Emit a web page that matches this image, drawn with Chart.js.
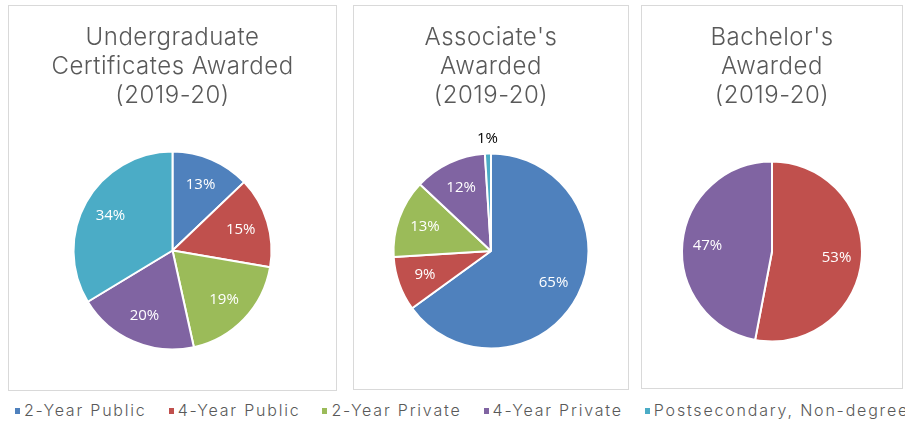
<!DOCTYPE html>
<html>
<head>
<meta charset="utf-8">
<script src="https://cdn.jsdelivr.net/npm/chart.js@4"></script>
<style>
  body { margin: 0; background: #fff; width: 905px; height: 421px; overflow: hidden; position: relative; font-family: Inter, "Open Sans", sans-serif; }
  .panel { position: absolute; top: 5px; box-sizing: border-box; border: 1px solid #d9d9d9; }
  .panel canvas { position: absolute; left: 0; top: 0; }
  .title { position: absolute; left: 0; right: 0; top: 16px; text-align: center; color: #595959; font-size: 24px; font-weight: 300; line-height: 29px; letter-spacing: 0.5px; }
  #legend { position: absolute; left: 15px; top: 400px; white-space: nowrap; color: #595959; font-size: 16px; font-weight: 300; letter-spacing: 1.8px; }
  #legend span.item { display: inline-block; margin-right: 22px; }
  #legend i { display: inline-block; width: 5px; height: 6px; margin-right: 4px; vertical-align: 2px; }
</style>
</head>
<body>
<div class="panel" id="p0" style="left:8px; width:329px; height:386px;"><canvas id="c0" width="327" height="384"></canvas><div class="title" id="t0"></div></div>
<div class="panel" id="p1" style="left:353px; width:276px; height:385px;"><canvas id="c1" width="274" height="383"></canvas><div class="title" id="t1"></div></div>
<div class="panel" id="p2" style="left:641px; width:262px; height:384px;"><canvas id="c2" width="260" height="382"></canvas><div class="title" id="t2"></div></div>
<div id="legend"></div>
<script>
// sectors (legend order)
const categories = ['2-Year Public', '4-Year Public', '2-Year Private', '4-Year Private', 'Postsecondary, Non-degree'];
const colors = ['#4F81BD', '#C0504D', '#9BBB59', '#8064A2', '#4BACC6'];

// share of awards, percent
const certificates = [13, 15, 19, 20, 34];
const associates = [65, 9, 13, 12, 1];
const bachelors = [0, 53, 0, 47, 0];

const titles = [
    ['Undergraduate', 'Certificates Awarded', '(2019-20)'],
    ["Associate's", 'Awarded', '(2019-20)'],
    ["Bachelor's", 'Awarded', '(2019-20)']
];

// percent labels: inside the slice, small ones outside in black
const pieLabels = {
    id: 'pieLabels',
    afterDatasetsDraw(chart) {
        const ctx = chart.ctx;
        const data = chart.data.datasets[0].data;
        chart.getDatasetMeta(0).data.forEach((arc, i) => {
            const v = data[i];
            if (!v) return;
            const mid = (arc.startAngle + arc.endAngle) / 2;
            const small = v < 3;
            const r = small ? arc.outerRadius + 15 : arc.outerRadius * 0.72;
            ctx.save();
            ctx.font = '15px "Open Sans", sans-serif';
            ctx.fillStyle = small ? '#000' : '#fff';
            ctx.textAlign = 'center';
            ctx.textBaseline = 'middle';
            ctx.fillText(v + '%', arc.x + Math.cos(mid) * r, arc.y + Math.sin(mid) * r);
            ctx.restore();
        });
    }
};

function makePie(id, values, radius, padTop) {
    new Chart(document.getElementById(id), {
        type: 'pie',
        data: {
            labels: categories,
            datasets: [{
                data: values,
                backgroundColor: colors,
                borderColor: '#fff',
                borderWidth: 2,
                radius: radius
            }]
        },
        options: {
            responsive: false,
            animation: false,
            layout: { padding: { top: padTop, bottom: 0 } },
            plugins: {
                legend: { display: false },
                tooltip: { enabled: false }
            }
        },
        plugins: [pieLabels]
    });
}

titles.forEach((lines, i) => {
    document.getElementById('t' + i).innerHTML = lines.join('<br>');
});

makePie('c0', certificates, 99, 105);
makePie('c1', associates, 97.5, 107);
makePie('c2', bachelors, 90, 109);

// legend shared by all three pies
document.getElementById('legend').innerHTML = categories.map((c, i) =>
    `<span class="item"><i style="background:${colors[i]}"></i>${c}</span>`
).join('');
</script>
</body>
</html>
